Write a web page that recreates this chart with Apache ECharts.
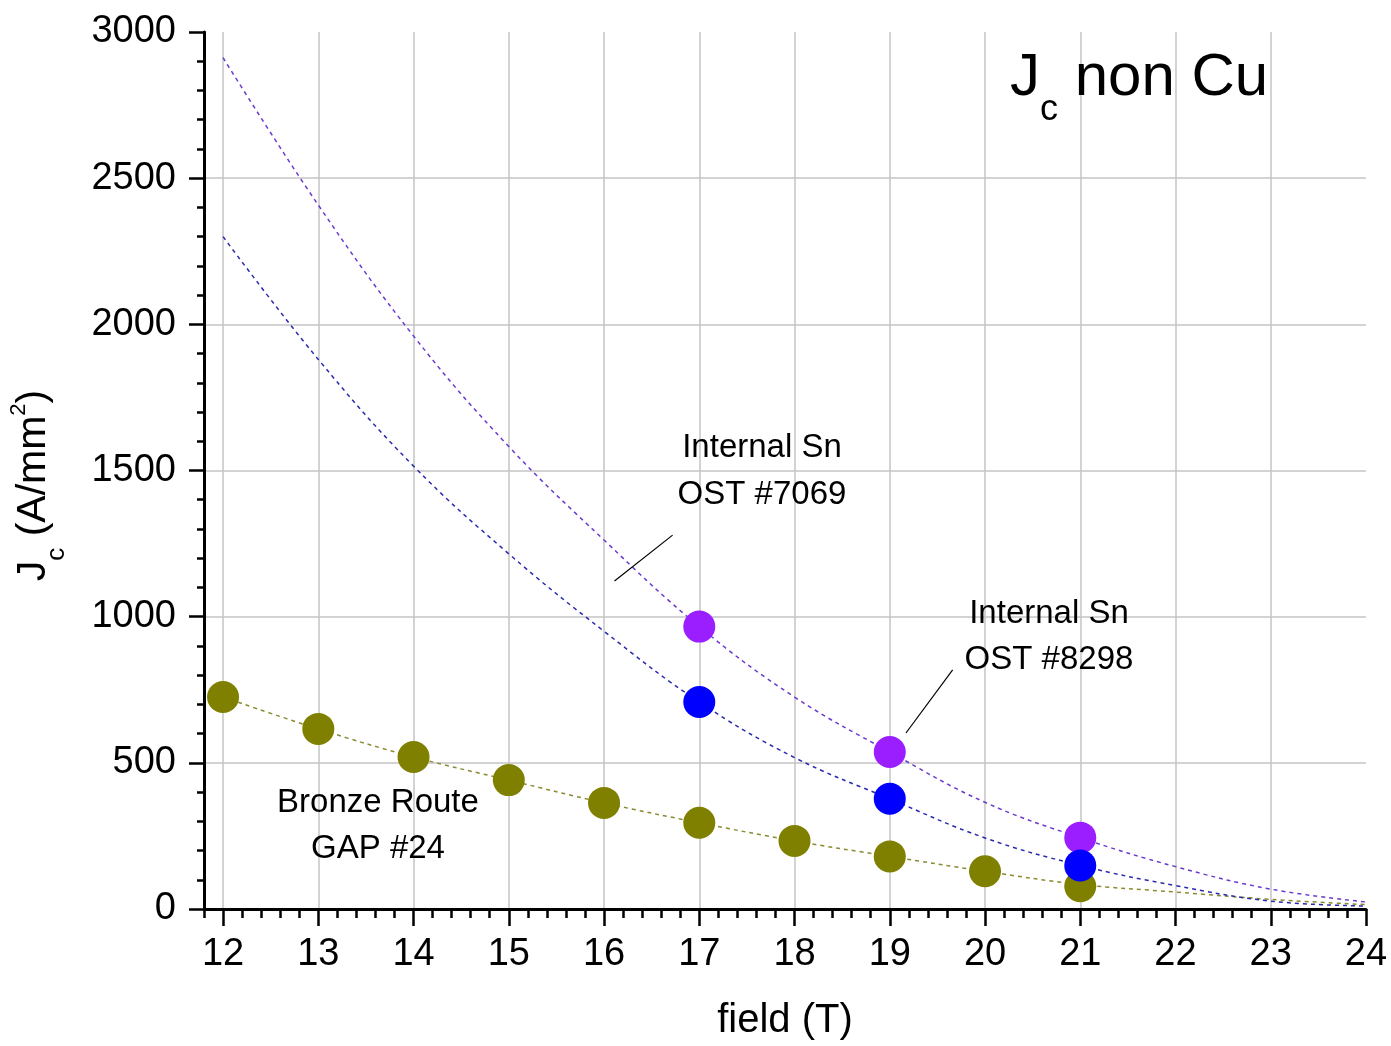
<!DOCTYPE html>
<html>
<head>
<meta charset="utf-8">
<script src="https://cdn.jsdelivr.net/npm/echarts@6/dist/echarts.min.js"></script>
<style>
  html, body { margin: 0; padding: 0; background: #fff; }
  #chart { width: 1391px; height: 1046px; }
</style>
</head>
<body>
<div id="chart"></div>
<script>
// tick labels
var fieldTicks = [12, 13, 14, 15, 16, 17, 18, 19, 20, 21, 22, 23, 24];

// fitted curves, read at each integer field
var fitField = [12, 13, 14, 15, 16, 17, 18, 19, 20, 21, 22, 23, 24];
var purpleFit = [2912, 2408, 1960, 1582, 1262, 966, 725, 537, 365, 244, 145, 68, 24];
var blueFit = [2300, 1880, 1515, 1215, 950, 708, 518, 377, 243, 149, 80, 27, 10];
var oliveFit = [725, 616, 520, 441, 363, 295, 233, 180, 129, 84, 58, 33, 15];

// measured points
var ostField = [17, 19, 21];
var purpleJc = [966, 537, 244];
var blueJc = [708, 377, 149];
var gapField = [12, 13, 14, 15, 16, 17, 18, 19, 20, 21];
var gapJc = [725, 616, 520, 441, 363, 295, 233, 180, 129, 78];

// leader lines of the labels, [field, Jc] pairs
var leaderLines = [
  [[16.11, 1122], [16.72, 1279]],
  [[19.17, 602], [19.66, 818]]
];

var FONT = '"Liberation Sans", Arial, sans-serif';

function pairs(xs, ys) {
  return xs.map(function (x, i) { return [x, ys[i]]; });
}

var chart = echarts.init(document.getElementById('chart'));

function fitSeries(name, xs, ys, color) {
  return {
    name: name,
    type: 'line',
    data: pairs(xs, ys),
    smooth: 0.4,
    symbol: 'none',
    z: 2,
    lineStyle: { color: color, width: 1.5, type: [4, 4] }
  };
}

function pointSeries(name, xs, ys, color, z) {
  return {
    name: name,
    type: 'scatter',
    data: pairs(xs, ys),
    symbol: 'circle',
    symbolSize: 32,
    z: z,
    itemStyle: { color: color, opacity: 1 }
  };
}

var purpleLine = fitSeries('fitA', fitField, purpleFit, '#6a3ad0');
purpleLine.markLine = {
  silent: true,
  symbol: 'none',
  label: { show: false },
  lineStyle: { color: '#000', width: 1.2, type: 'solid' },
  data: leaderLines.map(function (l) {
    return [{ coord: l[0] }, { coord: l[1] }];
  })
};

var option = {
  backgroundColor: '#fff',
  animation: false,
  title: {
    text: '{j|J}{c|c}{j| non Cu}',
    left: 1010,
    top: 46,
    padding: 0,
    textStyle: {
      fontWeight: 'normal',
      rich: {
        j: { fontSize: 60, fontWeight: 'normal', fontFamily: FONT, color: '#000', height: 64, padding: [0, 0, 36, 0] },
        c: { fontSize: 36, fontWeight: 'normal', fontFamily: FONT, color: '#000', height: 38, padding: [45, 0, 17, 0] }
      }
    }
  },
  grid: {
    left: 203,
    right: 25,
    top: 32,
    bottom: 137,
    containLabel: false
  },
  xAxis: [{
    type: 'value',
    min: 11.8,
    max: 24,
    position: 'bottom',
    name: 'field (T)',
    nameLocation: 'middle',
    nameGap: 92,
    nameTextStyle: { fontSize: 40, fontFamily: FONT, color: '#000' },
    axisLine: { show: true, onZero: false, lineStyle: { color: '#000', width: 3 } },
    axisTick: { show: true, customValues: fieldTicks, length: 17, lineStyle: { color: '#000', width: 2.5 } },
    axisLabel: {
      customValues: fieldTicks,
      margin: 27,
      fontSize: 38,
      fontFamily: FONT,
      color: '#000',
      showMinLabel: true,
      showMaxLabel: true
    },
    splitLine: { show: true, showMaxLine: false, lineStyle: { color: '#c4c4c4', width: 1.5 } }
  }, {
    // minor ticks every 0.2 T
    type: 'value',
    min: 11.8,
    max: 24,
    interval: 0.2,
    position: 'bottom',
    axisLine: { show: false, onZero: false },
    axisTick: { show: true, length: 9, lineStyle: { color: '#000', width: 2.5 } },
    axisLabel: { show: false },
    splitLine: { show: false }
  }],
  yAxis: {
    type: 'value',
    min: 0,
    max: 3000,
    interval: 500,
    name: '{a|J}{s|c}{a| (A/mm}{p|2}{a|)}',
    nameLocation: 'middle',
    nameRotate: 90,
    nameGap: 132,
    nameTextStyle: {
      padding: [0, 30, 0, 0],
      rich: {
        a: { fontSize: 41, fontFamily: FONT, color: '#000', height: 42, padding: [13, 0, 17, 0] },
        s: { fontSize: 26, fontFamily: FONT, color: '#000', height: 28, padding: [43, 0, 1, 0] },
        p: { fontSize: 22, fontFamily: FONT, color: '#000', height: 24, padding: [7, 0, 41, 0] }
      }
    },
    axisLine: { show: true, lineStyle: { color: '#000', width: 3 } },
    axisTick: { show: true, length: 15, lineStyle: { color: '#000', width: 2.5 } },
    minorTick: { show: true, splitNumber: 5, length: 7, lineStyle: { color: '#000', width: 2.5 } },
    axisLabel: {
      margin: 28,
      fontSize: 38,
      fontFamily: FONT,
      color: '#000',
      showMinLabel: true,
      showMaxLabel: true,
      formatter: function (v) { return String(v); }
    },
    splitLine: { show: true, showMaxLine: false, lineStyle: { color: '#c4c4c4', width: 1.5 } }
  },
  graphic: [
    {
      type: 'text', x: 762, y: 424, z: 10,
      style: {
        text: 'Internal Sn\nOST #7069', fill: '#000', font: '33px ' + FONT,
        textAlign: 'center', textVerticalAlign: 'top', align: 'center', verticalAlign: 'top', lineHeight: 47
      }
    },
    {
      type: 'text', x: 1049, y: 591, z: 10,
      style: {
        text: 'Internal Sn\nOST #8298', fill: '#000', font: '33px ' + FONT,
        textAlign: 'center', textVerticalAlign: 'top', align: 'center', verticalAlign: 'top', lineHeight: 46
      }
    },
    {
      type: 'text', x: 378, y: 780, z: 10,
      style: {
        text: 'Bronze Route\nGAP #24', fill: '#000', font: '33px ' + FONT,
        textAlign: 'center', textVerticalAlign: 'top', align: 'center', verticalAlign: 'top', lineHeight: 46
      }
    }
  ],
  series: [
    fitSeries('fitGap', fitField, oliveFit, '#8a8a30'),
    purpleLine,
    fitSeries('fitB', fitField, blueFit, '#2a2ab0'),
    pointSeries('GAP #24', gapField, gapJc, '#808000', 3),
    pointSeries('ptsA', ostField, purpleJc, '#9a1eff', 4),
    pointSeries('ptsB', ostField, blueJc, '#0000ff', 5)
  ]
};

chart.setOption(option);
</script>
</body>
</html>
